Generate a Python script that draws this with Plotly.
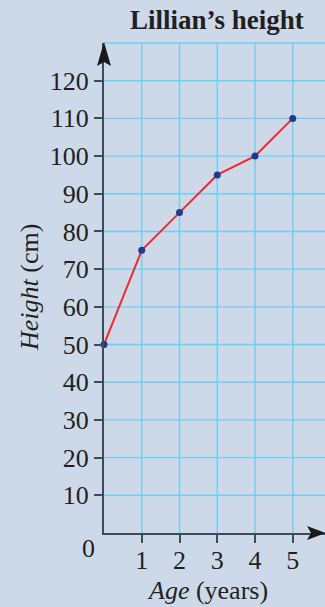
import plotly.graph_objects as go

# Lillian's height by age
ages = [0, 1, 2, 3, 4, 5]
heights = [50, 75, 85, 95, 100, 110]
y_ticks = [10, 20, 30, 40, 50, 60, 70, 80, 90, 100, 110, 120]
x_ticks = [1, 2, 3, 4, 5]
Y_TOP = 130

COLORS = {
    'bg': '#cdd9e8',
    'grid': '#6fcdf2',
    'axis': '#3d4c58',
    'arrow': '#1a1a1a',
    'line': '#ee2b2f',
    'marker': '#1d3c8f',
    'text': '#231f20',
}
SERIF = 'Liberation Serif, Times New Roman, serif'
X_MAX = 5.854

fig = go.Figure()

fig.add_trace(go.Scatter(
    x=ages, y=heights,
    mode='lines+markers',
    line=dict(color=COLORS['line'], width=2),
    marker=dict(color=COLORS['marker'], size=7),
    hoverinfo='skip',
    cliponaxis=False,
))

axis_common = dict(
    showgrid=False, zeroline=False,
    showline=True, linecolor=COLORS['axis'], linewidth=2.2,
    ticks='outside', ticklen=8, tickwidth=1.5, tickcolor=COLORS['axis'],
    tickfont=dict(family=SERIF, size=26, color=COLORS['text']),
    fixedrange=True,
)

fig.update_layout(
    width=325, height=607,
    margin=dict(l=104, r=0, t=43, b=74),
    paper_bgcolor=COLORS['bg'],
    plot_bgcolor=COLORS['bg'],
    showlegend=False,
    font=dict(family=SERIF, color=COLORS['text'], size=26),
    xaxis=dict(range=[0, X_MAX], tickvals=x_ticks,
               ticktext=[str(t) for t in x_ticks], ticklabelstandoff=-5,
               **axis_common),
    yaxis=dict(range=[0, Y_TOP], tickvals=y_ticks,
               ticktext=[str(t) for t in y_ticks], ticklabelstandoff=0,
               **axis_common),
)

# grid lines, under the data
for gx in ages[1:]:
    fig.add_shape(type='line', xref='x', yref='y', x0=gx, x1=gx, y0=0, y1=Y_TOP,
                  line=dict(color=COLORS['grid'], width=1.4), layer='below')
for gy in y_ticks:
    fig.add_shape(type='line', xref='x', yref='y', x0=0, x1=X_MAX, y0=gy, y1=gy,
                  line=dict(color=COLORS['grid'], width=1.4), layer='below')
fig.add_shape(type='line', xref='x domain', yref='y domain', x0=0, x1=1, y0=1, y1=1,
              line=dict(color=COLORS['grid'], width=1.6), layer='below')

# arrowheads on the axes
fig.add_shape(type='path', xref='x domain', yref='y domain',
              xsizemode='pixel', ysizemode='pixel', xanchor=0, yanchor=1,
              path='M0,1 L7,-23 L0,-19 L-7,-23 Z',
              fillcolor=COLORS['arrow'], line=dict(width=0))
fig.add_shape(type='path', xref='x domain', yref='y domain',
              xsizemode='pixel', ysizemode='pixel', xanchor=1, yanchor=0,
              path='M1,0 L-18,7 L-14,0 L-18,-7 Z',
              fillcolor=COLORS['arrow'], line=dict(width=0))

# origin label
fig.add_annotation(x=0, y=0, xref='x', yref='y', text='0', showarrow=False,
                   xanchor='center', yanchor='middle',
                   xshift=-16, yshift=-15, font=dict(family=SERIF, size=26))

# title and axis titles
fig.add_annotation(x=0.511, y=1, xref='paper', yref='paper',
                   text='<b>Lillian’s height</b>', showarrow=False,
                   xanchor='center', yanchor='middle',
                   yshift=23, font=dict(family=SERIF, size=27))
fig.add_annotation(x=0.5, y=0, xref='paper', yref='paper', text='<i>Age</i> (years)',
                   showarrow=False, xanchor='center', yanchor='middle',
                   yshift=-57, xshift=-7,
                   font=dict(family=SERIF, size=26))
fig.add_annotation(x=0, y=0.5, xref='paper', yref='paper', text='<i>Height</i> (cm)',
                   showarrow=False, textangle=-90, xanchor='center', yanchor='middle',
                   xshift=-75, yshift=0,
                   font=dict(family=SERIF, size=26))

fig.write_html("out.html", config={'displayModeBar': False},
               post_script="document.body.style.margin='0';")
